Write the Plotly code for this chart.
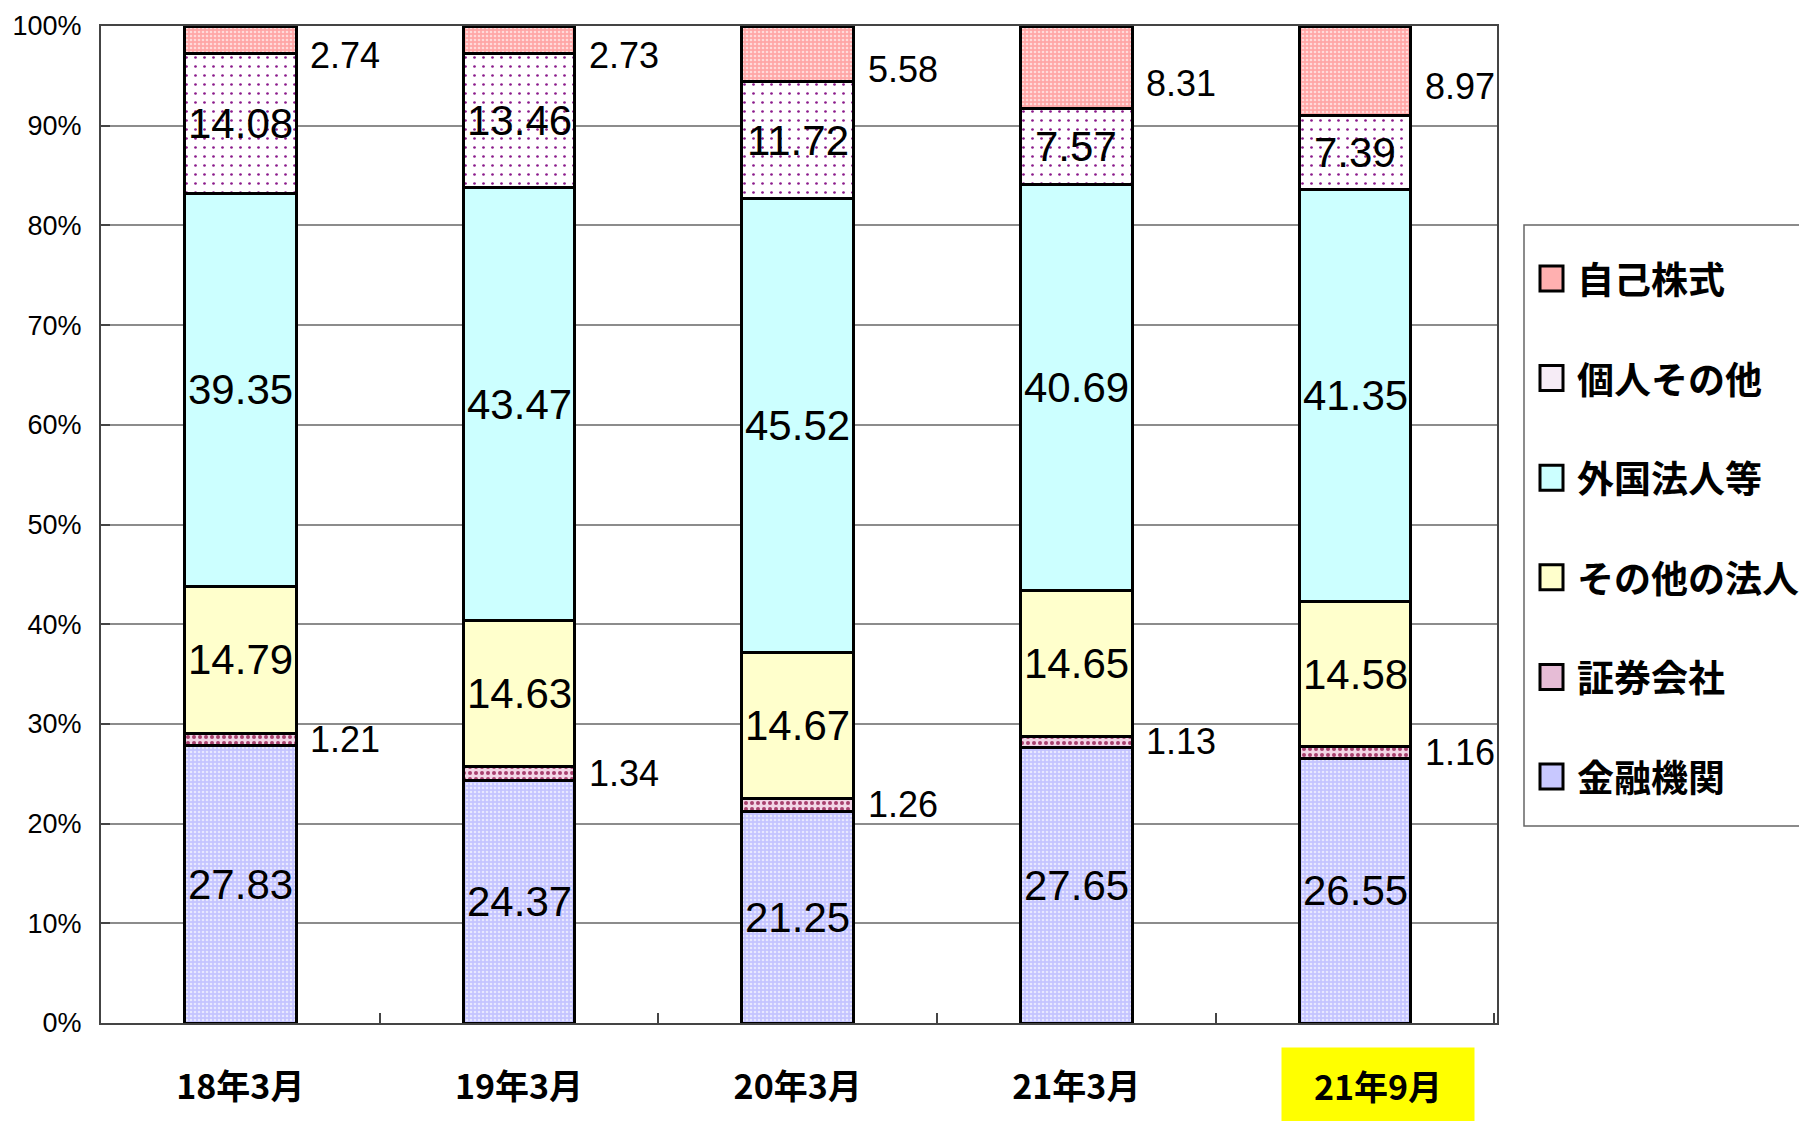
import plotly.graph_objects as go

categories = ["18年3月", "19年3月", "20年3月", "21年3月", "21年9月"]
series_names = ["金融機関", "証券会社", "その他の法人", "外国法人等", "個人その他", "自己株式"]
kinyu = [27.83, 24.37, 21.25, 27.65, 26.55]
shoken = [1.21, 1.34, 1.26, 1.13, 1.16]
sonota_hojin = [14.79, 14.63, 14.67, 14.65, 14.58]
gaikoku = [39.35, 43.47, 45.52, 40.69, 41.35]
kojin = [14.08, 13.46, 11.72, 7.57, 7.39]
jiko = [2.74, 2.73, 5.58, 8.31, 8.97]
y_tick_vals = [0, 10, 20, 30, 40, 50, 60, 70, 80, 90, 100]
y_tick_text = ["0%", "10%", "20%", "30%", "40%", "50%", "60%", "70%", "80%", "90%", "100%"]

series_values = [kinyu, shoken, sonota_hojin, gaikoku, kojin, jiko]

# styles
styles = [
    dict(bg="#C4C4FF", fg="#E8E8FF", size=4, sol=0.35, legend="#C8C8FF"),
    dict(bg="#F2D6E6", fg="#A8406E", size=6, sol=0.35, legend="#E6BCD6"),
    dict(bg="#FFFFCC", fg=None, size=0, sol=0, legend="#FFFFCC"),
    dict(bg="#CCFFFF", fg=None, size=0, sol=0, legend="#CCFFFF"),
    dict(bg="#FFFFFF", fg="#8B1A8B", size=9, sol=0.07, legend="#F6ECF6"),
    dict(bg="#FFA6A6", fg="#FFDADA", size=4, sol=0.35, legend="#FFB0B0"),
]
inside = [True, False, True, True, True, False]
label_yshift = [0, 0, 0, 0, 0, -16]

NUM_FONT = "Liberation Sans, Arial, sans-serif"
JP_FONT = "Noto Sans CJK JP"

# page offset from default body margin
OFF = 8
W, H = 1807, 1121
L, T = 101 - OFF, 26 - OFF
PW, PH = 1396, 997
R = W - L - PW
B = H - T - PH


def xp(px):
    # page px -> paper
    return (px - OFF - L) / PW


def yp(py):
    return (T + PH - (py - OFF)) / PH


fig = go.Figure()
for name, vals, st in zip(series_names, series_values, styles):
    marker = dict(color=st["bg"], line=dict(color="#000000", width=3))
    if st["fg"]:
        marker["pattern"] = dict(shape=".", bgcolor=st["bg"], fgcolor=st["fg"],
                                 size=st["size"], solidity=st["sol"], fillmode="replace")
    fig.add_trace(go.Bar(x=categories, y=vals, name=name, marker=marker,
                         showlegend=False, hoverinfo="skip"))

annotations = []
cum = [0.0] * len(categories)
for si, vals in enumerate(series_values):
    for ci, v in enumerate(vals):
        mid = cum[ci] + v / 2
        if inside[si]:
            annotations.append(dict(x=categories[ci], y=mid, xref="x", yref="y",
                                    text=f"{v:.2f}", showarrow=False,
                                    font=dict(family=NUM_FONT, size=42, color="#000"),
                                    xanchor="center", yanchor="middle"))
        else:
            annotations.append(dict(x=categories[ci], y=mid, xref="x", yref="y",
                                    text=f"{v:.2f}", showarrow=False,
                                    font=dict(family=NUM_FONT, size=36, color="#000"),
                                    xanchor="left", yanchor="middle",
                                    xshift=68, yshift=label_yshift[si]))
        cum[ci] += v

# highlighted last category label
annotations.append(dict(x=categories[-1], y=yp(1085), xref="x", yref="paper",
                        text=f"<b>{categories[-1]}</b>", showarrow=False,
                        font=dict(family=JP_FONT, size=34, color="#000"),
                        bgcolor="#FFFF00", width=190, height=72,
                        xanchor="center", yanchor="middle", xshift=23))

# manual legend
shapes = [dict(type="rect", xref="paper", yref="paper",
               x0=xp(1524), x1=xp(1850), y0=yp(826), y1=yp(225),
               line=dict(color="#666666", width=1.5), fillcolor="rgba(0,0,0,0)")]
legend_order = list(range(len(series_names)))[::-1]
for k, si in enumerate(legend_order):
    yc = 278 + k * 99.6
    shapes.append(dict(type="rect", xref="paper", yref="paper",
                       x0=xp(1540), x1=xp(1563), y0=yp(yc + 13), y1=yp(yc - 12),
                       line=dict(color="#000000", width=3), fillcolor=styles[si]["legend"]))
    annotations.append(dict(x=xp(1575), y=yp(yc), xref="paper", yref="paper",
                            text=f"<b>{series_names[si]}</b>", showarrow=False,
                            font=dict(family=JP_FONT, size=37, color="#000"),
                            xanchor="left", yanchor="middle"))

fig.update_layout(
    width=W, height=H,
    margin=dict(l=L, r=R, t=T, b=B, autoexpand=False),
    barmode="stack", bargap=0.6,
    plot_bgcolor="#FFFFFF", paper_bgcolor="#FFFFFF",
    annotations=annotations, shapes=shapes,
)
fig.update_xaxes(
    type="category",
    tickvals=categories,
    ticktext=[f"<b>{c}</b>" for c in categories[:-1]] + [""],
    tickfont=dict(family=JP_FONT, size=34, color="#000"),
    ticks="inside", tickson="boundaries", ticklen=10, tickcolor="#444", tickwidth=1.5,
    showline=True, linecolor="#444", linewidth=2, mirror=True,
    showgrid=False, ticklabelstandoff=33,
)
fig.update_yaxes(
    range=[0, 100], tickvals=y_tick_vals, ticktext=y_tick_text,
    tickfont=dict(family=NUM_FONT, size=27, color="#000"),
    ticks="inside", ticklen=9, tickcolor="#444", tickwidth=1.5,
    showline=True, linecolor="#444", linewidth=2, mirror=True,
    showgrid=True, gridcolor="#8C8C8C", gridwidth=1.5,
    ticklabelstandoff=12, zeroline=False,
)

fig.write_html("out.html")
